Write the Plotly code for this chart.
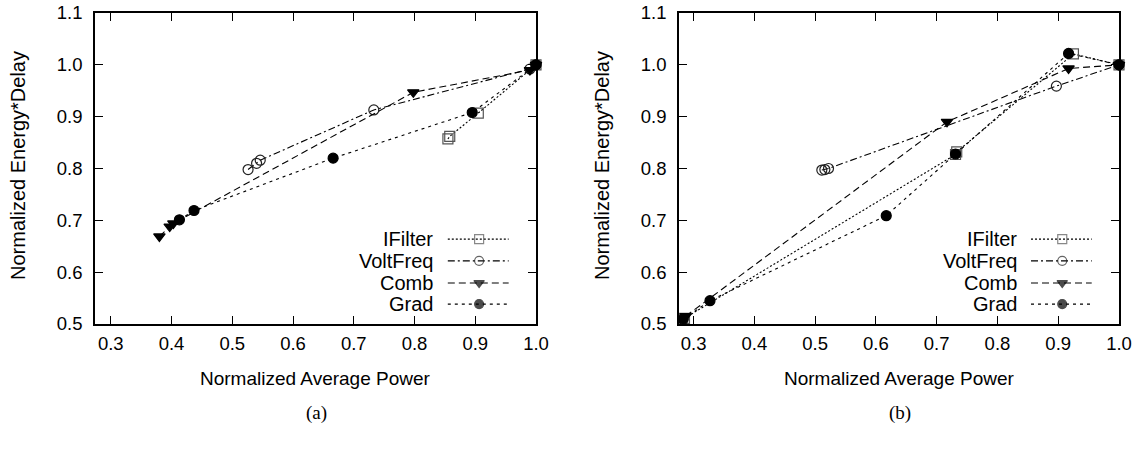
import plotly.graph_objects as go

# ---------------- data ----------------
series_names = ["IFilter", "VoltFreq", "Comb", "Grad"]

# panel (a)
a_ifilter_x = [0.855, 0.858, 0.905, 1.0]
a_ifilter_y = [0.857, 0.862, 0.907, 1.0]
a_voltfreq_x = [0.526, 0.540, 0.546, 0.733, 0.990, 1.0]
a_voltfreq_y = [0.798, 0.810, 0.816, 0.913, 0.992, 1.0]
a_comb_x = [0.380, 0.397, 0.403, 0.798, 0.990, 1.0]
a_comb_y = [0.669, 0.688, 0.694, 0.947, 0.990, 1.0]
a_grad_x = [0.413, 0.437, 0.666, 0.895, 1.0]
a_grad_y = [0.701, 0.719, 0.820, 0.908, 1.0]

# panel (b)
b_ifilter_x = [0.285, 0.731, 0.733, 0.925, 1.0]
b_ifilter_y = [0.511, 0.827, 0.832, 1.021, 1.0]
b_voltfreq_x = [0.511, 0.516, 0.522, 0.897, 1.0]
b_voltfreq_y = [0.797, 0.798, 0.800, 0.959, 1.0]
b_comb_x = [0.287, 0.717, 0.917, 1.0]
b_comb_y = [0.515, 0.890, 0.993, 1.0]
b_grad_x = [0.283, 0.327, 0.617, 0.731, 0.917, 1.0]
b_grad_y = [0.509, 0.545, 0.709, 0.828, 1.022, 1.0]

x_ticks = [0.3, 0.4, 0.5, 0.6, 0.7, 0.8, 0.9, 1.0]
y_ticks = [0.5, 0.6, 0.7, 0.8, 0.9, 1.0, 1.1]
x_title = "Normalized Average Power"
y_title = "Normalized Energy*Delay"
captions = ["(a)", "(b)"]

# ---------------- styles ----------------
W, H = 1141, 449
FONT = "Liberation Sans, Arial, sans-serif"
SERIF = "Liberation Serif, Times New Roman, serif"
styles = {
    "IFilter": dict(dash="2px,2px", symbol="square-open", size=10, mcolor="#555555"),
    "VoltFreq": dict(dash="7px,3px,2px,3px", symbol="circle-open", size=10, mcolor="#222222"),
    "Comb": dict(dash="7px,4px", symbol="triangle-down", size=10, mcolor="black"),
    "Grad": dict(dash="3px,4px", symbol="circle", size=10, mcolor="black"),
}

panels = [
    dict(data={"IFilter": (a_ifilter_x, a_ifilter_y), "VoltFreq": (a_voltfreq_x, a_voltfreq_y),
               "Comb": (a_comb_x, a_comb_y), "Grad": (a_grad_x, a_grad_y)},
         px=(95, 536), xr=[0.274, 1.0]),
    dict(data={"IFilter": (b_ifilter_x, b_ifilter_y), "VoltFreq": (b_voltfreq_x, b_voltfreq_y),
               "Comb": (b_comb_x, b_comb_y), "Grad": (b_grad_x, b_grad_y)},
         px=(679, 1119), xr=[0.276, 1.0]),
]
PY_TOP, PY_BOT = 13, 324

fig = go.Figure()
layout = dict(width=W, height=H, margin=dict(l=0, r=0, t=0, b=0, autoexpand=False),
              plot_bgcolor="white", paper_bgcolor="white", showlegend=False,
              font=dict(family=FONT, size=18, color="black"))
annotations = []

ydom = [1 - PY_BOT / H, 1 - PY_TOP / H]
for i, p in enumerate(panels):
    n = i + 1
    xa = "x" if n == 1 else f"x{n}"
    ya = "y" if n == 1 else f"y{n}"
    xkey = "xaxis" if n == 1 else f"xaxis{n}"
    ykey = "yaxis" if n == 1 else f"yaxis{n}"
    xdom = [p["px"][0] / W, p["px"][1] / W]
    axis_common = dict(showline=True, linecolor="black", linewidth=1.5, mirror="ticks",
                       ticks="inside", ticklen=8, tickwidth=1.3, tickcolor="black",
                       showgrid=False, zeroline=False, tickformat=".1f", automargin=False,
                       tickfont=dict(family=FONT, size=18.5, color="black"))
    layout[xkey] = dict(domain=xdom, range=p["xr"], tickvals=x_ticks, anchor=ya,
                        ticklabelstandoff=2, **axis_common)
    layout[ykey] = dict(domain=ydom, range=[0.5, 1.1], tickvals=y_ticks, anchor=xa,
                        ticklabelstandoff=7, **axis_common)
    # overlay axes for legend samples (fraction coordinates)
    on = n + 2
    oxkey, oykey = f"xaxis{on}", f"yaxis{on}"
    oxa, oya = f"x{on}", f"y{on}"
    layout[oxkey] = dict(overlaying=xa, range=[0, 1], visible=False, anchor=oya, automargin=False)
    layout[oykey] = dict(overlaying=ya, range=[0, 1], visible=False, anchor=oxa, automargin=False)

    for name in series_names:
        xs, ys = p["data"][name]
        st = styles[name]
        fig.add_trace(go.Scatter(
            x=xs, y=ys, mode="lines+markers", xaxis=xa, yaxis=ya, name=name,
            cliponaxis=False,
            line=dict(color="black", width=1.1, dash=st["dash"]),
            marker=dict(symbol=st["symbol"], size=st["size"], color=st["mcolor"],
                        line=dict(color=st["mcolor"], width=1.2)),
        ))

    # legend (gnuplot style: text right-aligned, sample on the right)
    row_y = [0.273, 0.203, 0.132, 0.064]
    for name, ry in zip(series_names, row_y):
        st = styles[name]
        fig.add_trace(go.Scatter(
            x=[0.800, 0.871, 0.938], y=[ry, ry, ry], mode="lines+markers",
            xaxis=oxa, yaxis=oya, cliponaxis=False, hoverinfo="skip",
            line=dict(color="black", width=1.1, dash=st["dash"]),
            marker=dict(symbol=st["symbol"], size=[0, st["size"] - 1, 0], color=st["mcolor"],
                        line=dict(color=st["mcolor"], width=[0, 1.2, 0])),
        ))
        annotations.append(dict(x=0.772, y=ry, xref=oxa, yref=oya, text=name,
                                showarrow=False, xanchor="right", yanchor="middle",
                                font=dict(family=FONT, size=20, color="black")))

    cx = (p["px"][0] + p["px"][1]) / 2 / W
    annotations.append(dict(x=cx, y=1 - 378 / H, xref="paper", yref="paper", text=x_title,
                            showarrow=False, xanchor="center", yanchor="middle",
                            font=dict(family=FONT, size=19, color="black")))
    annotations.append(dict(x=(p["px"][0] - 77) / W, y=1 - 166 / H, xref="paper", yref="paper",
                            text=y_title, textangle=-90, showarrow=False,
                            xanchor="center", yanchor="middle",
                            font=dict(family=FONT, size=20, color="black")))
    annotations.append(dict(x=(316 if n == 1 else 900) / W, y=1 - 413 / H, xref="paper",
                            yref="paper", text=captions[i], showarrow=False,
                            xanchor="center", yanchor="middle",
                            font=dict(family=SERIF, size=19, color="black")))

layout["annotations"] = annotations
fig.update_layout(**layout)
fig.write_html("out.html", config={"displayModeBar": False},
               post_script="document.body.style.margin='0px';document.body.style.overflow='hidden';")
